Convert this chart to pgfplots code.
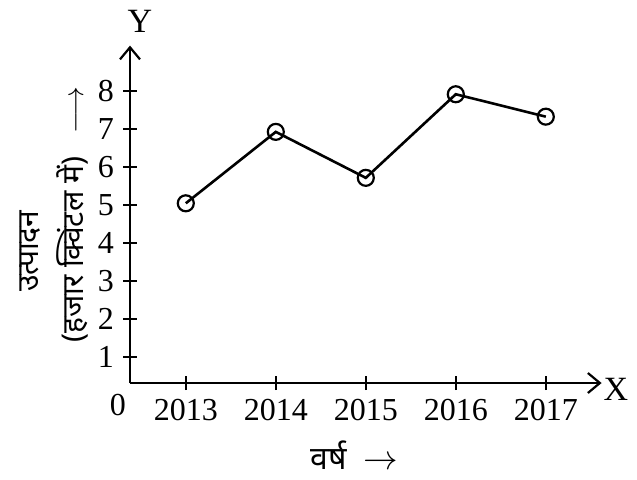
\documentclass[border=0pt]{standalone}
\usepackage{pgfplots}
\pgfplotsset{compat=1.18}
\usepackage{fontspec}
\setmainfont{Liberation Serif}
\newfontfamily\devfont[Script=Devanagari]{Noto Sans}
\usetikzlibrary{arrows.meta}
\begin{document}
\begin{tikzpicture}
\useasboundingbox (-65pt,-48pt) rectangle (253.5pt,191.5pt);
\begin{axis}[
  at={(0,0)}, anchor=south west,
  scale only axis,
  width=235.8pt, height=168.7pt,
  xmin=2012.38, xmax=2017.62,
  ymin=0.32, ymax=9.2,
  axis lines=left,
  axis line style={line width=1.2pt, -{Straight Barb[length=6pt,width=10pt,line width=1.1pt]}},
  xtick={2013,2014,2015,2016,2017},
  ytick={1,2,3,4,5,6,7,8},
  xticklabels={2013,2014,2015,2016,2017},
  tick align=center,
  major tick length=7pt,
  tick style={black, line width=1pt},
  /pgf/number format/assume math mode=true,
  /pgf/number format/1000 sep={},
  tick label style={font=\fontsize{16}{18}\selectfont},
  xticklabel style={yshift=-1pt},
  yticklabel style={xshift=-1pt},
  clip=false,
]
\addplot[black, line width=1.3pt, mark=o, mark size=4pt, mark options={line width=1.1pt, fill=white}]
  coordinates {(2013,5.05) (2014,6.93) (2015,5.72) (2016,7.92) (2017,7.33)};
\end{axis}
\node[font=\fontsize{16}{18}\selectfont] at (-6pt,-11pt) {0};
\node[font=\fontsize{17}{19}\selectfont] at (5pt,181pt) {Y};
\node[font=\fontsize{17}{19}\selectfont] at (243pt,-3pt) {X};
\node[font=\devfont\fontsize{15}{17}\selectfont, rotate=90] at (-50pt,66pt) {उत्पादन};
\node[font=\devfont\fontsize{15}{17}\selectfont, rotate=90] at (-29pt,84pt) {(हजार क्विंटल में)\ \ \ $\longrightarrow$};
\node[font=\devfont\fontsize{16}{18}\selectfont] at (112pt,-36pt) {वर्ष\ \ $\rightarrow$};
\end{tikzpicture}
\end{document}
